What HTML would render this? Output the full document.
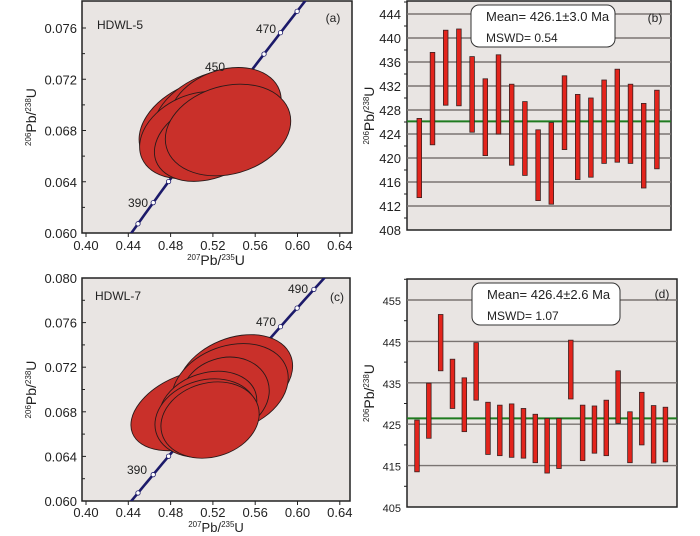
<!DOCTYPE html>
<html><head><meta charset="utf-8"><style>
html,body{margin:0;background:#fff;overflow:hidden;width:700px;height:536px;}
svg{display:block;font-family:"Liberation Sans",Arial,sans-serif;}
</style></head><body>
<svg id="fig" width="700" height="536" viewBox="0 0 700 536" xmlns="http://www.w3.org/2000/svg">
<defs>
<clipPath id="clipA"><rect x="82" y="1" width="270" height="232"/></clipPath>
<clipPath id="clipC"><rect x="82" y="278" width="268" height="223"/></clipPath>
</defs>
</svg>
<script>
// ---------- data ----------
const concAges=[370,380,390,400,410,420,430,440,450,460,470,480,490,500];
const ellA_x=[0.5078,0.5220,0.5314,0.5031,0.5173,0.5343];
const ellA_y=[0.06843,0.06898,0.06960,0.06765,0.06726,0.06804];
const ellA_a=[64,66,58,58,58,64];
const ellA_b=[42,44,40,40,38,44];
const ellA_ang=[-24,-24,-20,-24,-22,-16];
const ellC_x=[0.4983,0.5409,0.5362,0.5314,0.5154,0.5135,0.5173];
const ellC_y=[0.06816,0.07103,0.07013,0.06951,0.06834,0.06744,0.06726];
const ellC_a=[62,60,60,45,50,52,50];
const ellC_b=[36,40,42,37,35,38,37];
const ellC_ang=[-22,-22,-20,-18,-18,-16,-16];
const xTicks=[0.40,0.44,0.48,0.52,0.56,0.60,0.64];
const yTicksA=[0.060,0.064,0.068,0.072,0.076];
const yTicksC=[0.060,0.064,0.068,0.072,0.076,0.080];
const barB_hi=[426.6,437.6,441.3,441.5,436.9,433.2,437.2,432.3,429.4,424.7,425.9,433.7,430.6,430.0,433.0,434.8,432.3,429.1,431.3];
const barB_lo=[413.4,422.2,428.8,428.7,424.3,420.4,424.0,418.8,417.1,412.9,412.3,421.4,416.4,416.8,419.1,419.3,419.1,415.0,418.2];
const meanB=426.1;
const yTicksB=[408,412,416,420,424,428,432,436,440,444];
const barD_hi=[426.0,434.9,451.5,440.7,436.2,444.7,430.3,429.6,429.9,428.8,427.4,426.4,426.4,445.3,429.6,429.4,430.8,437.9,428.0,432.7,429.5,429.1];
const barD_lo=[413.5,421.6,437.9,428.8,423.2,430.8,417.7,417.4,417.0,416.8,415.7,413.2,414.3,431.1,416.2,418.0,417.4,425.2,415.7,420.0,415.6,415.9];
const meanD=426.4;
const yTicksD=[405,415,425,435,445,455];

const NS="http://www.w3.org/2000/svg";
const svg=document.getElementById('fig');
function mk(tag,attrs,parent){const e=document.createElementNS(NS,tag);for(const k in attrs)e.setAttribute(k,attrs[k]);(parent||svg).appendChild(e);return e;}
function txt(x,y,s,size,anchor,parent){const t=mk('text',{x:x,y:y,'font-size':size,'text-anchor':anchor||'middle',fill:'#222'},parent);t.textContent=s;return t;}
function pbLabel(g,x,y,rot,top1,top2,fs){
  fs=fs||14;
  const t=mk('text',{x:x,y:y,'font-size':fs,'text-anchor':'middle',fill:'#222'},g);
  if(rot)t.setAttribute('transform','rotate(-90 '+x+' '+y+')');
  const s1=mk('tspan',{'font-size':8,dy:-5},t);s1.textContent=top1;
  const s2=mk('tspan',{dy:5},t);s2.textContent='Pb/';
  const s3=mk('tspan',{'font-size':8,dy:-5},t);s3.textContent=top2;
  const s4=mk('tspan',{dy:5},t);s4.textContent='U';
  return t;
}
const L238=1.55125e-10,L235=9.8485e-10;
function conc(t){return [Math.exp(L235*t*1e6)-1,Math.exp(L238*t*1e6)-1];}

function concordiaPanel(opt){
  const g=mk('g',{});
  
  
  const xs=v=>86+(v-0.40)/0.04*42.3;
  const xc=v=>xs(v)-5;
  const ys=v=>opt.y0-(v-0.06)/0.004*opt.ppy;
  const bg=mk('rect',{x:opt.L,y:opt.T,width:opt.R-opt.L,height:opt.y0-opt.T,fill:'#e9e5e3',stroke:'#222','stroke-width':1.5},g);
  
  const pg=mk('g',{'clip-path':'url(#'+opt.clip+')'},g);
  let d='';for(let t=300;t<=560;t+=2){const c=conc(t);d+=(d?'L':'M')+xc(c[0]).toFixed(1)+','+ys(c[1]).toFixed(1);}
  const cl=mk('path',{d:d,fill:'none',stroke:'#1c1a6a','stroke-width':2.6},pg);
  
  concAges.forEach(a=>{const c=conc(a);const p=mk('circle',{cx:xc(c[0]),cy:ys(c[1]),r:2.2,fill:'#fff',stroke:'#1c1a6a','stroke-width':0.8},pg);
    });
  for(let i=0;i<opt.ex.length;i++){
    const cx=xs(opt.ex[i]),cy=ys(opt.ey[i]);
    const e=mk('ellipse',{cx:cx,cy:cy,rx:opt.ea[i],ry:opt.eb[i],transform:'rotate('+opt.eang[i]+' '+cx+' '+cy+')',fill:'#c9302a',stroke:'#2a1a1a','stroke-width':0.9},pg);
    
  }
  xTicks.forEach(v=>{const x=xs(v);mk('line',{x1:x,x2:x,y1:opt.y0,y2:opt.y0+4,stroke:'#222'},g);
    const t=txt(x,opt.y0+opt.tkOff,v.toFixed(2),13,'middle',g);});
  opt.yt.forEach(v=>{const y=ys(v);mk('line',{x1:opt.L,x2:opt.L+4,y1:y,y2:y,stroke:'#222'},g);
    const m=ys(v+0.002);if(m>opt.T+2)mk('line',{x1:opt.L,x2:opt.L+3,y1:m,y2:m,stroke:'#222'},g);
    const t=txt(opt.L-5,y+5,v.toFixed(3),13,'end',g);});
  const s=txt(opt.sx,opt.sy,opt.sample,12,'start',g);
  const pl=txt(opt.px,opt.py,opt.panel,12,'middle',g);
  opt.ages.forEach(a=>{const t=txt(a[1],a[2],a[0],12,'middle',g);});
  const xl=pbLabel(g,216,opt.y0+opt.xtOff,false,'207','235',opt.xtFs);
  const yl=pbLabel(g,36,(opt.T+opt.y0)/2,true,'206','238');
}
concordiaPanel({name:'concordia-panel-a',L:82,T:1,R:352,y0:233,ppy:51.25,clip:'clipA',ex:ellA_x,ey:ellA_y,ea:ellA_a,eb:ellA_b,eang:ellA_ang,yt:yTicksA,xtOff:32,tkOff:17,xtFs:14,
  sample:'HDWL-5',sx:97,sy:29,panel:'(a)',px:333,py:22,ages:[['450',215,71],['470',266,33],['390',138,207]]});
concordiaPanel({name:'concordia-panel-c',L:82,T:278,R:350,y0:501,ppy:44.6,clip:'clipC',ex:ellC_x,ey:ellC_y,ea:ellC_a,eb:ellC_b,eang:ellC_ang,yt:yTicksC,xtOff:31,tkOff:16,xtFs:13,
  sample:'HDWL-7',sx:95,sy:300,panel:'(c)',px:337,py:301,ages:[['490',298,293],['470',266,326],['390',137,474]]});

function barPanel(opt){
  const g=mk('g',{});
  
  
  const ys=v=>opt.B-(v-opt.vmin)*opt.ppu;
  const bg=mk('rect',{x:opt.L,y:opt.T,width:opt.R-opt.L,height:opt.B-opt.T,fill:'#e9e5e3',stroke:'#222','stroke-width':1.5},g);
  
  opt.yt.forEach((v,i)=>{const y=ys(v);
    if(i>0){const gl=mk('line',{x1:opt.L,x2:opt.R,y1:y,y2:y,stroke:'#7a7472','stroke-width':1.4},g);}
    const t=txt(opt.L-6,y+5,String(v),opt.fs,'end',g);
    const m=ys(v+opt.step/2);if(m>opt.T)mk('line',{x1:opt.L-3,x2:opt.L,y1:m,y2:m,stroke:'#222'},g);});
  const ml=mk('line',{x1:opt.L,x2:opt.R,y1:ys(opt.mean),y2:ys(opt.mean),stroke:'#1f7a1f','stroke-width':2},g);
  
  for(let i=0;i<opt.hi.length;i++){
    const x=opt.x0+i*opt.dx;
    const r=mk('rect',{x:x-2.3,y:ys(opt.hi[i]),width:4.6,height:ys(opt.lo[i])-ys(opt.hi[i]),fill:'#e3241c',stroke:'#3a2222','stroke-width':0.8},g);
    
  }
  const box=mk('rect',{x:opt.bx,y:opt.by,width:opt.bw,height:opt.bh,rx:8,fill:'#fff',stroke:'#333','stroke-width':1},g);
  
  const t1=txt(opt.bx+15,opt.by+16,opt.meanText,13,'start',g);
  const t2=txt(opt.bx+15,opt.by+37,opt.mswd,12,'start',g);
  const pl=txt(opt.px,opt.py,opt.panel,12,'middle',g);
  const yl=pbLabel(g,374,(opt.T+opt.B)/2,true,'206','238');
}
barPanel({name:'age-panel-b',L:407,R:671,T:1,B:230,vmin:408,ppu:6,yt:yTicksB,step:4,fs:13,hi:barB_hi,lo:barB_lo,mean:meanB,x0:419.3,dx:13.2,
  bx:471,by:5,bw:144,bh:42,meanText:'Mean= 426.1±3.0 Ma',mswd:'MSWD= 0.54',panel:'(b)',px:655,py:22});
barPanel({name:'age-panel-d',L:407,R:677,T:279,B:507,vmin:405,ppu:4.14,yt:yTicksD,step:10,fs:11,hi:barD_hi,lo:barD_lo,mean:meanD,x0:417,dx:11.83,
  bx:472,by:283,bw:148,bh:42,meanText:'Mean= 426.4±2.6 Ma',mswd:'MSWD= 1.07',panel:'(d)',px:662,py:298});
</script>
</body></html>
